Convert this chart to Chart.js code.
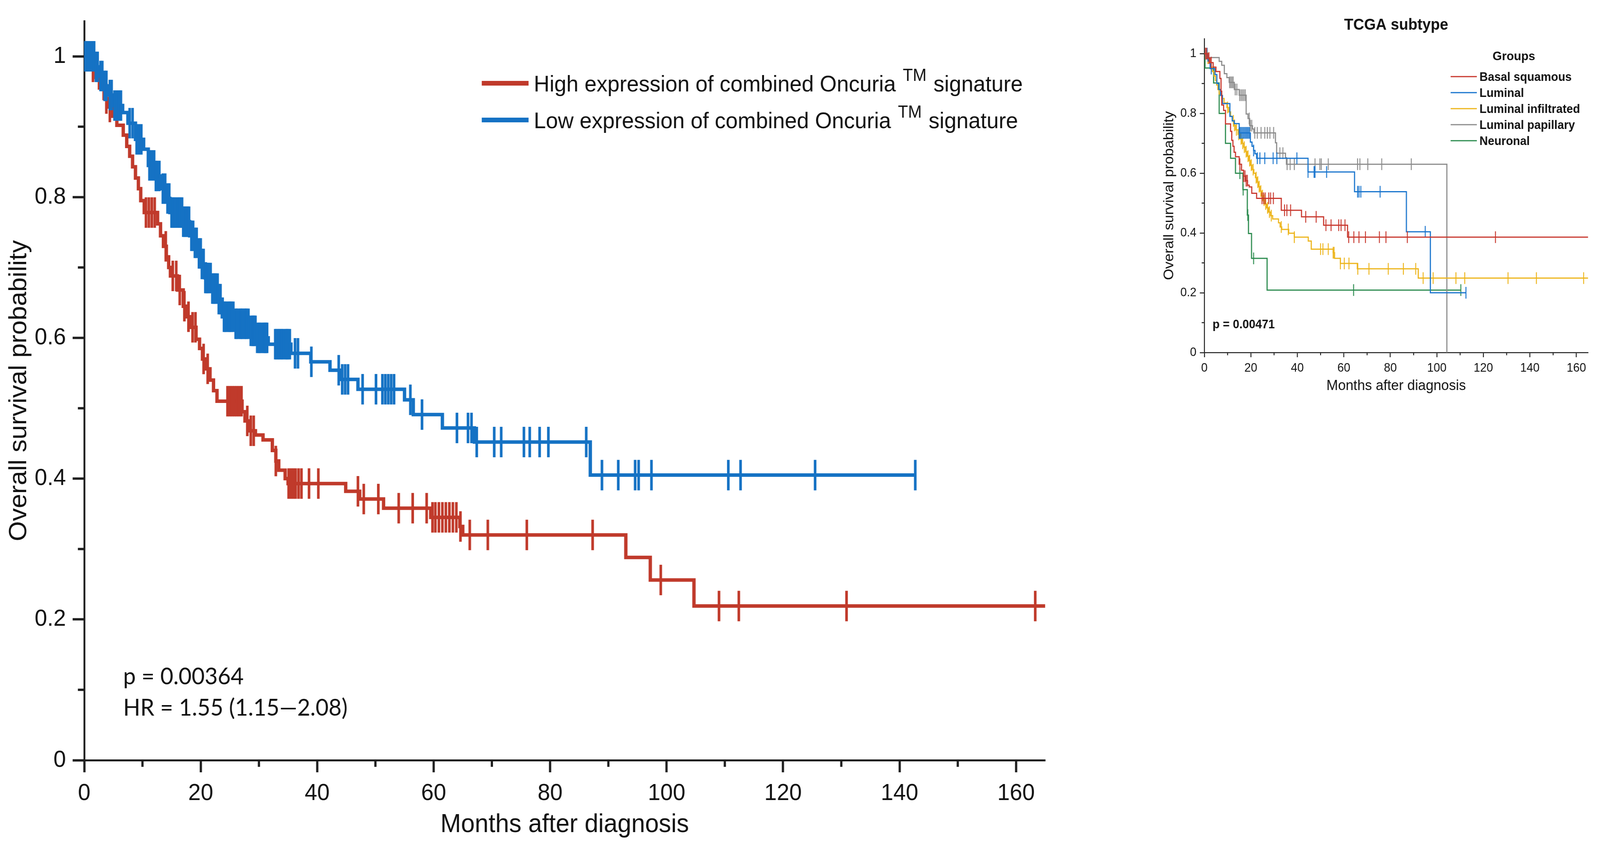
<!DOCTYPE html>
<html><head><meta charset="utf-8">
<script src="https://cdn.jsdelivr.net/npm/chart.js@4.4.1/dist/chart.umd.min.js"></script>
<style>
html,body{margin:0;padding:0;background:#fff;overflow:hidden;}
body{position:relative;width:100vw;height:100vh;}
canvas{position:absolute;top:0;display:block;}
</style></head><body>
<canvas id="main" width="2900" height="2162"></canvas>
<canvas id="sub" width="1225" height="1050"></canvas>
<script>
// ---------------- MAIN CHART DATA ----------------
const mainXTicks = [0,20,40,60,80,100,120,140,160];
const mainXMinor = [10,30,50,70,90,110,130,150];
const mainYTicks = [0,0.2,0.4,0.6,0.8,1];
const mainYTickLabels = ['0','0.2','0.4','0.6','0.8','1'];
const mainYMinor = [0.1,0.3,0.5,0.7,0.9];
const highLabelParts = ['High expression of combined Oncuria', 'TM', 'signature'];
const lowLabelParts  = ['Low expression of combined Oncuria', 'TM', 'signature'];
const mainStats = ['p = 0.00364', 'HR = 1.55 (1.15\u20142.08)'];

const highTimes = [0,1.2,2.0,2.6,3.4,4.2,4.9,5.6,6.7,7.3,7.8,8.3,8.8,9.3,9.7,10.3,12.6,13.1,13.6,14.1,14.5,14.8,16.0,17.0,17.6,18.4,19.2,19.8,20.3,20.9,21.6,22.2,22.8,27.1,27.6,28.3,29.4,30.7,32.3,32.9,33.4,34.5,35.0,44.9,47.3,51.4,59.5,64.5,65.0,93.0,97.2,104.7,165];
const highSurv  = [1,0.985,0.97,0.955,0.94,0.928,0.915,0.902,0.888,0.872,0.858,0.843,0.827,0.812,0.795,0.778,0.762,0.745,0.73,0.715,0.70,0.688,0.668,0.645,0.63,0.615,0.598,0.585,0.57,0.556,0.54,0.525,0.51,0.495,0.482,0.468,0.462,0.455,0.44,0.425,0.412,0.40,0.393,0.382,0.371,0.358,0.345,0.332,0.32,0.288,0.256,0.219,0.219];
const highCensor = [0.3,0.6,1.5,3.8,4.4,10.6,11.1,11.6,12.1,14.0,15.2,15.8,16.4,17.2,17.9,18.6,19.1,20.5,21.2,24.6,25.0,25.4,25.8,26.2,26.6,27.0,28.0,28.6,29.1,32.9,35.1,35.5,35.9,36.3,36.8,37.3,38.6,40.2,47.0,48.0,50.5,54.0,56.4,58.8,59.8,60.3,60.9,61.5,62.1,62.7,63.3,63.9,64.6,66.2,69.3,76.0,87.3,99.0,109.0,112.4,130.9,163.3];

const lowTimes = [0,1.9,2.5,3.3,4.2,4.9,6.6,7.5,8.8,10.2,11.0,12.2,13.2,14.0,14.7,16.9,18.1,18.8,19.4,20.2,20.8,21.9,23.0,23.7,25.8,28.3,29.7,31.6,35.5,38.9,42.2,44.0,47.0,55.0,56.5,61.5,67.0,86.9,142.7];
const lowSurv  = [1,0.985,0.972,0.958,0.945,0.93,0.92,0.905,0.882,0.868,0.845,0.83,0.812,0.798,0.778,0.765,0.745,0.735,0.72,0.705,0.685,0.67,0.655,0.63,0.62,0.61,0.60,0.591,0.578,0.566,0.554,0.541,0.527,0.512,0.491,0.472,0.452,0.405,0.405];
const lowCensor = [0.2,0.5,0.8,1.1,1.4,1.7,2.0,2.3,2.8,3.1,3.5,3.8,4.4,4.7,5.2,5.6,6.0,6.3,7.8,8.3,9.0,9.4,9.8,11.2,11.6,12.0,12.3,12.5,12.9,13.5,13.9,14.3,14.6,15.0,15.1,15.3,15.5,15.7,16.0,16.2,16.4,16.6,16.8,17.0,17.2,17.4,17.6,17.8,18.0,18.4,18.7,19.0,19.3,19.7,20.0,20.2,20.5,20.8,21.0,21.2,21.4,21.7,22.0,22.2,22.4,22.6,22.9,23.1,23.4,24.0,24.2,24.4,24.7,24.9,25.1,25.3,25.6,26.0,26.2,26.5,26.8,27.0,27.2,27.5,27.7,27.9,28.2,28.6,28.9,29.0,29.2,29.4,29.7,30.0,30.2,30.5,30.8,31.0,31.2,31.4,32.8,33.0,33.3,33.5,33.8,34.0,34.3,34.6,34.8,35.0,35.3,36.2,36.7,39.0,43.7,44.3,44.8,45.3,47.8,50.1,51.2,51.7,52.2,52.7,53.2,56.0,58.0,64.0,65.9,66.5,67.4,70.4,71.6,75.5,76.5,78.2,79.7,86.2,88.9,91.7,94.6,95.2,97.4,110.6,112.7,125.5,142.7];

// ---------------- TCGA SUBTYPE DATA ----------------
const subTitle = 'TCGA subtype';
const subXTicks = [0,20,40,60,80,100,120,140,160];
const subXMinor = [10,30,50,70,90,110,130,150];
const subYTicks = [0,0.2,0.4,0.6,0.8,1];
const subYTickLabels = ['0','0.2','0.4','0.6','0.8','1'];
const subYMinor = [0.1,0.3,0.5,0.7,0.9];
const subGroups = ['Basal squamous','Luminal','Luminal infiltrated','Luminal papillary','Neuronal'];
const subStat = 'p = 0.00471';

const basalTimes = [0,1.5,2.5,3.8,5.0,6.7,7.2,7.5,8.3,9.1,11.3,11.8,12.3,12.8,13.4,15.0,16.0,16.9,17.8,18.6,19.3,20.4,22.5,33.1,41.8,51.3,61.6,165];
const basalSurv  = [1,0.985,0.97,0.955,0.94,0.917,0.874,0.828,0.81,0.765,0.74,0.71,0.69,0.67,0.655,0.63,0.61,0.59,0.575,0.56,0.554,0.533,0.516,0.476,0.454,0.426,0.386,0.386];
const basalCensor = [0.5,1.0,2.0,3.0,15.3,16.9,17.5,18.0,18.5,24.8,25.5,26.2,27.7,28.5,29.7,34.5,35.5,37.1,43.6,48.1,52.3,54.5,57.8,58.8,60.5,62.1,64.3,66.5,69.3,75.3,78.1,87.3,125.2];

const luminalTimes = [0,1.6,2.5,4.6,5.4,6.2,7.0,7.8,11.0,12.0,12.9,15.0,19.8,20.5,21.2,21.8,22.5,44.6,64.6,86.9,97.2,112.5];
const luminalSurv  = [1,0.975,0.95,0.93,0.9,0.88,0.86,0.833,0.79,0.775,0.766,0.735,0.704,0.69,0.676,0.665,0.65,0.604,0.538,0.404,0.2,0.2];
const luminalCensor = [0.5,1.2,3.0,15.0,15.4,15.9,16.4,16.9,17.4,17.9,18.4,18.9,19.4,21.2,22.8,23.9,26.0,29.6,31.2,39.8,44.6,47.2,47.6,52.6,65.9,66.5,67.3,75.6,95.0,112.5];

const infilTimes = [0,1.0,2.0,2.8,3.5,4.2,4.8,5.3,5.8,6.4,7.5,8.5,9.7,10.5,11.3,12.0,12.7,13.5,14.5,15.3,16.2,17.0,17.7,18.4,19.1,19.8,20.5,21.3,22.0,22.6,23.3,23.9,24.6,25.3,26.0,26.8,27.6,28.5,29.4,31.9,32.6,33.3,36.3,38.7,44.7,46.0,55.4,56.0,58.5,65.8,92.0,165];
const infilSurv  = [1,0.985,0.97,0.955,0.94,0.925,0.91,0.895,0.88,0.865,0.85,0.835,0.82,0.805,0.79,0.775,0.76,0.745,0.73,0.715,0.70,0.687,0.672,0.657,0.642,0.627,0.612,0.60,0.585,0.57,0.555,0.54,0.525,0.51,0.497,0.484,0.47,0.458,0.447,0.434,0.42,0.412,0.399,0.386,0.373,0.346,0.334,0.315,0.298,0.28,0.249,0.249];
const infilCensor = [0.5,1.5,10.0,12.5,13.0,13.8,14.8,15.8,16.5,17.2,18.0,18.8,19.5,20.2,21.0,22.3,23.0,23.6,24.3,25.0,25.7,26.4,27.2,28.0,28.8,33.1,36.1,38.7,50.0,51.0,53.3,55.4,55.8,58.5,60.2,62.2,66.0,70.8,79.1,85.6,90.9,94.1,98.4,108.2,112.0,130.6,142.8,163.1];

const papTimes = [0,0.5,6.4,7.5,8.6,9.7,10.7,12.9,15.0,18.0,18.8,19.5,20.7,21.3,30.6,31.1,34.9,35.3,104.3];
const papSurv  = [1,0.987,0.974,0.961,0.933,0.92,0.904,0.88,0.861,0.798,0.783,0.759,0.748,0.735,0.702,0.667,0.652,0.63,0];
const papCensor = [10.9,11.4,11.9,12.4,13.3,14.0,15.2,15.8,16.4,17.0,17.6,19.3,19.8,20.4,21.7,22.8,24.4,26.0,27.1,28.2,29.8,32.5,33.8,35.6,36.9,38.7,47.6,49.7,50.3,53.3,65.9,66.9,70.3,76.3,89.0];

const neuroTimes = [0,0.3,4.0,6.4,9.1,11.3,13.4,16.6,18.5,19.0,20.3,27.0,110.3];
const neuroSurv  = [1,0.952,0.902,0.80,0.70,0.65,0.60,0.545,0.46,0.398,0.315,0.209,0.209];
const neuroCensor = [15.3,16.7,18.7,21.2,64.2,110.3];

// ---------------- STYLE ----------------
const RED = '#C03A2B', BLUE = '#1572C4';
const SUB_COLORS = ['#C8372D','#1874CD','#EDB51C','#8C8C8C','#2B8B4E'];
const AXIS = '#1e1e1e', TXT = '#111';
const SANS = "'Liberation Sans', Arial, sans-serif";

// The picture is designed on a 4275 x 2162 grid; the canvases are stretched to the real viewport.
const DESIGN_W = 4275, DESIGN_H = 2162;
(function place() {
  const sx = window.innerWidth / DESIGN_W, sy = window.innerHeight / DESIGN_H;
  const m = document.getElementById('main'), s = document.getElementById('sub');
  m.style.left = '0px'; m.style.width = (2900 * sx) + 'px'; m.style.height = (2162 * sy) + 'px';
  s.style.left = (3050 * sx) + 'px'; s.style.width = (1225 * sx) + 'px'; s.style.height = (1050 * sy) + 'px';
})();

// ---------------- HELPERS ----------------
function stepAt(times, surv, t) {
  let v = surv[0];
  for (let i = 0; i < times.length; i++) { if (times[i] <= t) v = surv[i]; else break; }
  return v;
}
function curveSet(label, times, surv, color, width) {
  return { type: 'line', label, data: times.map((t, i) => ({ x: t, y: surv[i] })),
    stepped: true, borderColor: color, backgroundColor: color, borderWidth: width,
    pointRadius: 0, pointHoverRadius: 0, fill: false, tension: 0,
    borderJoinStyle: 'miter', borderCapStyle: 'butt' };
}
function censorSet(label, censor, times, surv, color, radius, width) {
  return { type: 'line', label, data: censor.map(t => ({ x: t, y: stepAt(times, surv, t) })),
    showLine: false, pointStyle: 'line', pointRotation: 90, pointRadius: radius, pointHoverRadius: radius,
    pointBorderWidth: width, pointBorderColor: color, pointBackgroundColor: color,
    borderColor: color, backgroundColor: color, clip: false };
}

const minorTicks = {
  id: 'minorTicks',
  afterDatasetsDraw(chart, args, o) {
    const ctx = chart.ctx, xs = chart.scales.x, ys = chart.scales.y;
    ctx.save(); ctx.strokeStyle = o.color; ctx.lineWidth = o.width; ctx.lineCap = 'butt';
    (o.xValues || []).forEach(v => { const p = xs.getPixelForValue(v); ctx.beginPath(); ctx.moveTo(p, xs.top); ctx.lineTo(p, xs.top + o.length); ctx.stroke(); });
    (o.yValues || []).forEach(v => { const p = ys.getPixelForValue(v); ctx.beginPath(); ctx.moveTo(ys.right, p); ctx.lineTo(ys.right - o.length, p); ctx.stroke(); });
    ctx.restore();
  }
};

const kmLegend = {
  id: 'kmLegend',
  afterDatasetsDraw(chart, args, o) {
    if (!o || !o.items) return;
    const ctx = chart.ctx;
    ctx.save();
    if (o.title) {
      ctx.font = `bold ${o.titleSize}px ${o.family}`; ctx.fillStyle = o.color;
      ctx.textAlign = 'center'; ctx.textBaseline = 'middle';
      ctx.fillText(o.title, o.titleX, o.titleY);
    }
    const w = o.weight ? o.weight + ' ' : '';
    o.items.forEach((it, i) => {
      const y = o.y + i * o.rowGap;
      ctx.strokeStyle = it.color; ctx.lineWidth = o.lineWidth; ctx.lineCap = 'butt';
      ctx.beginPath(); ctx.moveTo(o.x, y); ctx.lineTo(o.x + o.lineLen, y); ctx.stroke();
      let tx = o.x + o.lineLen + o.gap;
      ctx.fillStyle = o.color; ctx.textAlign = 'left'; ctx.textBaseline = 'alphabetic';
      const base = y + 0.36 * o.size;
      const parts = Array.isArray(it.text) ? it.text : [it.text];
      parts.forEach((p, k) => {
        const sup = parts.length === 3 && k === 1;
        const fs = sup ? Math.round(o.size * 0.76) : o.size;
        if (k > 0) { ctx.font = `${w}${o.size}px ${o.family}`; tx += ctx.measureText(' ').width * 1.15; }
        ctx.font = `${w}${fs}px ${o.family}`;
        ctx.fillText(p, tx, sup ? base - 0.46 * o.size : base);
        tx += ctx.measureText(p).width;
      });
    });
    ctx.restore();
  }
};

const kmText = {
  id: 'kmText',
  afterDatasetsDraw(chart, args, o) {
    if (!o || !o.lines) return;
    const ctx = chart.ctx;
    ctx.save(); ctx.fillStyle = o.color; ctx.font = `${o.weight ? o.weight + ' ' : ''}${o.size}px ${o.family}`;
    ctx.textAlign = 'left'; ctx.textBaseline = 'alphabetic';
    o.lines.forEach((t, i) => ctx.fillText(t, o.x, o.y + i * o.lineGap));
    ctx.restore();
  }
};

Chart.register(minorTicks, kmLegend, kmText);

// ---------------- MAIN CHART ----------------
new Chart(document.getElementById('main'), {
  type: 'line',
  data: { datasets: [
    censorSet('Low censored', lowCensor, lowTimes, lowSurv, BLUE, 39, 7),
    curveSet(lowLabelParts.join(' '), lowTimes, lowSurv, BLUE, 9),
    censorSet('High censored', highCensor, highTimes, highSurv, RED, 39, 7),
    curveSet(highLabelParts.join(' '), highTimes, highSurv, RED, 9)
  ]},
  options: {
    responsive: false, animation: false, events: [], devicePixelRatio: 1,
    layout: { padding: { top: 29, right: 108, left: 0, bottom: 0 } },
    scales: {
      x: { type: 'linear', min: 0, max: 165,
        afterBuildTicks: s => { s.ticks = mainXTicks.map(v => ({ value: v })); },
        afterFit: s => { s.height = 217; },
        ticks: { font: { family: SANS, size: 60 }, color: TXT, padding: 18, maxRotation: 0, autoSkip: false, callback: v => String(v) },
        grid: { drawOnChartArea: false, drawTicks: true, tickLength: 31, tickWidth: 6, tickColor: AXIS },
        border: { display: true, width: 5, color: AXIS },
        title: { display: true, text: 'Months after diagnosis', color: TXT, font: { family: SANS, size: 66 }, padding: { top: 0, bottom: 12 } }
      },
      y: { type: 'linear', min: 0, max: 1.05,
        afterBuildTicks: s => { s.ticks = mainYTicks.map(v => ({ value: v })); },
        afterFit: s => { s.width = 225; },
        ticks: { font: { family: SANS, size: 60 }, color: TXT, padding: 18, autoSkip: false, callback: (v, i) => mainYTickLabels[i] },
        grid: { drawOnChartArea: false, drawTicks: true, tickLength: 31, tickWidth: 6, tickColor: AXIS },
        border: { display: true, width: 5, color: AXIS },
        title: { display: true, text: 'Overall survival probability', color: TXT, font: { family: SANS, size: 66 }, padding: { top: 12, bottom: 0 } }
      }
    },
    plugins: {
      legend: { display: false }, tooltip: { enabled: false }, title: { display: false },
      minorTicks: { xValues: mainXMinor, yValues: mainYMinor, length: 17, width: 6, color: AXIS },
      kmLegend: { x: 1287, y: 213, rowGap: 94, lineLen: 125, gap: 14, lineWidth: 12, size: 58, family: SANS, color: TXT,
        items: [ { text: highLabelParts, color: RED }, { text: lowLabelParts, color: BLUE } ] },
      kmText: { lines: mainStats, x: 329, y: 1751, lineGap: 80, size: 60, family: "Lato, 'Open Sans', sans-serif", color: TXT }
    }
  }
});

// ---------------- TCGA SUBTYPE CHART ----------------
const subSeries = [
  [basalTimes, basalSurv, basalCensor],
  [luminalTimes, luminalSurv, luminalCensor],
  [infilTimes, infilSurv, infilCensor],
  [papTimes, papSurv, papCensor],
  [neuroTimes, neuroSurv, neuroCensor]
];
const subDatasets = [];
subSeries.forEach((s, i) => {
  subDatasets.push(censorSet(subGroups[i] + ' censored', s[2], s[0], s[1], SUB_COLORS[i], 15, 2.5));
  subDatasets.push(curveSet(subGroups[i], s[0], s[1], SUB_COLORS[i], 3));
});

new Chart(document.getElementById('sub'), {
  type: 'line',
  data: { datasets: subDatasets },
  options: {
    responsive: false, animation: false, events: [], devicePixelRatio: 1,
    layout: { padding: { top: 0, right: 32, left: 0, bottom: 0 } },
    scales: {
      x: { type: 'linear', min: 0, max: 165,
        afterBuildTicks: s => { s.ticks = subXTicks.map(v => ({ value: v })); },
        afterFit: s => { s.height = 148; },
        ticks: { font: { family: SANS, size: 31 }, color: TXT, padding: 10, maxRotation: 0, autoSkip: false, callback: v => String(v) },
        grid: { drawOnChartArea: false, drawTicks: true, tickLength: 12, tickWidth: 2.5, tickColor: AXIS },
        border: { display: true, width: 2.5, color: AXIS },
        title: { display: true, text: 'Months after diagnosis', color: TXT, font: { family: SANS, size: 37 }, padding: { top: 0, bottom: 40 } }
      },
      y: { type: 'linear', min: 0, max: 1.05,
        afterBuildTicks: s => { s.ticks = subYTicks.map(v => ({ value: v })); },
        afterFit: s => { s.width = 168; },
        ticks: { font: { family: SANS, size: 31 }, color: TXT, padding: 9, autoSkip: false, callback: (v, i) => subYTickLabels[i] },
        grid: { drawOnChartArea: false, drawTicks: true, tickLength: 12, tickWidth: 2.5, tickColor: AXIS },
        border: { display: true, width: 2.5, color: AXIS },
        title: { display: true, text: 'Overall survival probability', color: TXT, font: { family: SANS, size: 37 }, padding: { top: 53, bottom: 0 } }
      }
    },
    plugins: {
      legend: { display: false }, tooltip: { enabled: false },
      title: { display: true, text: subTitle, fullSize: false, color: TXT, font: { family: SANS, size: 40, weight: 'bold' }, padding: { top: 41, bottom: 10 } },
      minorTicks: { xValues: subXMinor, yValues: subYMinor, length: 7, width: 2.5, color: AXIS },
      kmLegend: { title: 'Groups', titleSize: 32, titleX: 995, titleY: 145,
        x: 826, y: 196, rowGap: 41, lineLen: 70, gap: 7, lineWidth: 3, size: 31, weight: 'bold', family: SANS, color: TXT,
        items: subGroups.map((g, i) => ({ text: g, color: SUB_COLORS[i] })) },
      kmText: { lines: [subStat], x: 190, y: 840, lineGap: 0, size: 31, weight: 'bold', family: SANS, color: TXT }
    }
  }
});
</script>
</body></html>
